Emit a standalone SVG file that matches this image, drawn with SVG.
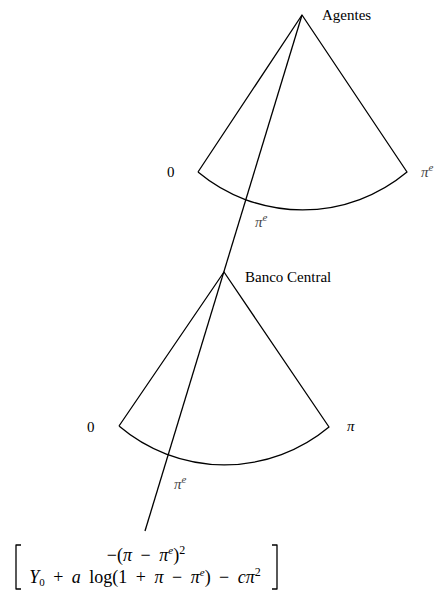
<svg xmlns="http://www.w3.org/2000/svg" width="442" height="593" viewBox="0 0 442 593">
<style>
.s{fill:none;stroke:#000;stroke-width:1.3;stroke-linejoin:round}
.t{font-family:"Liberation Serif","DejaVu Serif",serif;font-size:15px;fill:#000}
.f{font-size:18px;word-spacing:4px}
.i{font-style:italic}
.g{fill:#444}
</style>
<rect width="442" height="593" fill="#fff"/>
<g id="agentes">
<path class="s" d="M198,172 L302,15 L407,172 A163,163 0 0 1 198,172"/>
<text class="t" x="322" y="20">Agentes</text>
<text class="t" x="167" y="177">0</text>
<text class="t i g" x="421" y="177">π<tspan font-size="11" dy="-6">e</tspan></text>
<text class="t i g" x="255" y="227">π<tspan font-size="11" dy="-6">e</tspan></text>
</g>
<g id="banco">
<path class="s" d="M119,426 L224,272 L329,427 A163,163 0 0 1 119,426"/>
<text class="t" x="245" y="282">Banco Central</text>
<text class="t" x="87" y="432">0</text>
<text class="t i" x="347" y="431">π</text>
<text class="t i g" x="174" y="489">π<tspan font-size="11" dy="-6">e</tspan></text>
</g>
<g id="connectors">
<line class="s" x1="302" y1="15" x2="145" y2="531"/>
</g>
<g id="payoff">
<path class="s" d="M21,545 H16 V589 H21 M272,545 H277 V589 H272" stroke-width="1"/>
<text class="t f" x="146" y="561" text-anchor="middle">−(<tspan class="i">π</tspan> − <tspan class="i">π</tspan><tspan font-size="11" dy="-7" class="i">e</tspan><tspan dy="7">)</tspan><tspan font-size="12" dy="-7">2</tspan></text>
<text class="t f" x="145" y="583" text-anchor="middle"><tspan class="i">Y</tspan><tspan font-size="11" dy="3">0</tspan><tspan dy="-3"> + </tspan><tspan class="i">a</tspan> log(1 + <tspan class="i">π</tspan> − <tspan class="i">π</tspan><tspan font-size="11" dy="-7" class="i">e</tspan><tspan dy="7">) − </tspan><tspan class="i">cπ</tspan><tspan font-size="12" dy="-7">2</tspan></text>
</g>
</svg>
